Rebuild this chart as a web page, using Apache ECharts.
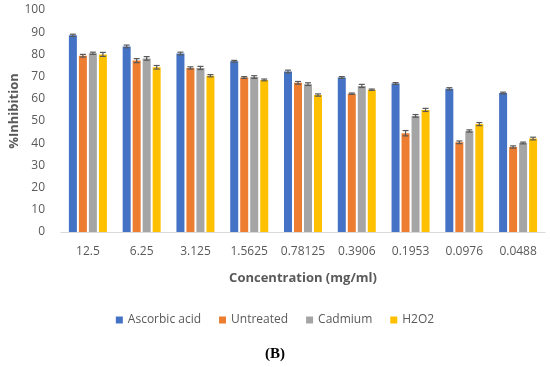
<!DOCTYPE html>
<html><head><meta charset="utf-8">
<script src="https://cdn.jsdelivr.net/npm/echarts@6/dist/echarts.min.js"></script>
<style>html,body{margin:0;padding:0;background:#fff}#c{width:550px;height:367px}</style>
</head><body><div id="c"></div>
<script>
var categories = ['12.5','6.25','3.125','1.5625','0.78125','0.3906','0.1953','0.0976','0.0488'];
var seriesNames = ['Ascorbic acid','Untreated','Cadmium','H2O2'];
var ascorbic  = [88.6, 83.6, 80.4, 76.9, 72.3, 69.6, 66.9, 64.5, 62.6];
var untreated = [79.4, 77.2, 73.9, 69.6, 67.2, 62.3, 44.5, 40.4, 38.3];
var cadmium   = [80.5, 78.2, 73.9, 69.8, 66.6, 65.8, 52.3, 45.5, 40.1];
var h2o2      = [80.0, 74.2, 70.4, 68.5, 61.7, 64.1, 55.0, 48.6, 42.1];
var errAsc = [0.5, 0.6, 0.6, 0.4, 0.6, 0.4, 0.4, 0.5, 0.4];
var errUnt = [0.6, 0.9, 0.5, 0.4, 0.6, 0.3, 1.2, 0.6, 0.5];
var errCad = [0.5, 0.8, 0.7, 0.6, 0.6, 0.7, 0.6, 0.5, 0.4];
var errH2  = [0.9, 0.8, 0.5, 0.4, 0.5, 0.3, 0.7, 0.7, 0.6];
var yTicks = [0,10,20,30,40,50,60,70,80,90,100];

var colors = ['#4472C4','#ED7D31','#A5A5A5','#FFC000'];
var values = [ascorbic, untreated, cadmium, h2o2];
var errs = [errAsc, errUnt, errCad, errH2];
var BW = 8, GAP = 2;
var font = '"Open Sans", "Liberation Sans", sans-serif';

var series = [];
values.forEach(function(v, i){
  series.push({
    name: seriesNames[i], type: 'bar', data: v, barWidth: BW, barGap: '25%',
    itemStyle: {color: colors[i]}, z: 2
  });
});
values.forEach(function(v, i){
  var offset = -((BW*4 + GAP*3)/2) + BW/2 + i*(BW+GAP);
  series.push({
    type: 'custom', name: seriesNames[i] + ' err', z: 5, silent: true,
    data: v.map(function(val, k){ return [k, val, errs[i][k]]; }),
    renderItem: function(params, api){
      var c = api.value(0), val = api.value(1), e = api.value(2);
      var hi = api.coord([c, val + e]), lo = api.coord([c, val - e]);
      var x = hi[0] + offset, w = 3;
      var st = {stroke: '#595959', lineWidth: 1.2};
      return {type: 'group', children: [
        {type: 'line', shape: {x1: x, y1: hi[1], x2: x, y2: lo[1]}, style: st},
        {type: 'line', shape: {x1: x-w, y1: hi[1], x2: x+w, y2: hi[1]}, style: st},
        {type: 'line', shape: {x1: x-w, y1: lo[1], x2: x+w, y2: lo[1]}, style: st}
      ]};
    }
  });
});

var chart = echarts.init(document.getElementById('c'), null, {renderer: 'canvas'});
chart.setOption({
  animation: false,
  textStyle: {fontFamily: font},
  grid: {left: 61, right: 5, top: 10, bottom: 135, containLabel: false},
  legend: {
    data: seriesNames, bottom: 36, left: 'center', itemWidth: 7, itemHeight: 7, itemGap: 18,
    icon: 'rect', textStyle: {fontSize: 12, color: '#595959', fontFamily: font}
  },
  xAxis: {
    type: 'category', data: categories,
    name: 'Concentration (mg/ml)', nameLocation: 'middle', nameGap: 40,
    nameTextStyle: {fontSize: 13, fontWeight: 'bold', color: '#595959', fontFamily: font},
    axisLine: {lineStyle: {color: '#D9D9D9'}}, axisTick: {show: false},
    axisLabel: {fontSize: 12, color: '#595959', margin: 14, interval: 0}
  },
  yAxis: {
    type: 'value', min: yTicks[0], max: yTicks[yTicks.length-1], interval: 10,
    axisLine: {show: false}, axisTick: {show: false}, splitLine: {show: false},
    axisLabel: {fontSize: 12, color: '#595959', margin: 16}
  },
  graphic: [{
    type: 'text', x: 14, y: 111, rotation: Math.PI/2,
    style: {text: '%Inhibition', font: 'bold 13px ' + font, fill: '#595959', align: 'center', verticalAlign: 'middle'}
  }, {
    type: 'text', left: 'center', top: 347,
    style: {text: '(B)', font: 'bold 15px "Liberation Serif", serif', fill: '#000'}
  }],
  series: series
});
</script></body></html>
